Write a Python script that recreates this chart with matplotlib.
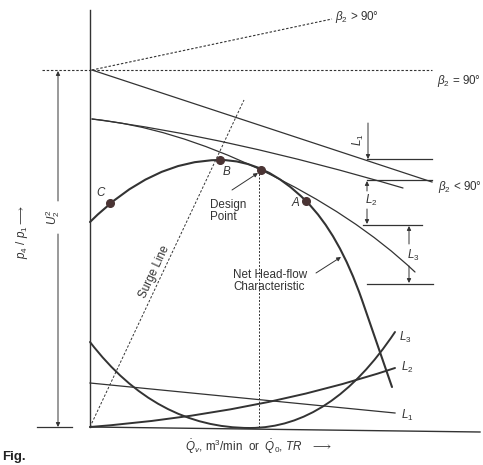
import matplotlib
matplotlib.use("Agg")
import matplotlib.pyplot as plt
from matplotlib.path import Path
from matplotlib.patches import PathPatch

plt.rcParams['font.family'] = ['Liberation Sans', 'DejaVu Sans']
plt.rcParams['mathtext.fontset'] = 'custom'
plt.rcParams['mathtext.rm'] = 'Liberation Sans'
plt.rcParams['mathtext.it'] = 'Liberation Sans:italic'

# ---- schematic data (flow units, pressure-ratio units) ----
# Net head-flow characteristic (quadratic Bezier nodes/controls)
head_flow = [0, 62, 130, 175, 216, 249, 272, 302]
head_ratio = [205, 267, 267, 267, 226, 193, 127, 40]
# Euler lines
euler_lt90_flow = [2, 342]
euler_lt90_ratio = [357, 245]
euler_gt90_flow = [2, 242]
euler_gt90_ratio = [357, 408]
euler_eq90_flow = [-48, 342]
euler_eq90_ratio = [357, 357]
# after slip (L1) and after L2 losses
slip_flow = [2, 140, 313]
slip_ratio = [308, 290, 239]
loss2_flow = [2, 81, 171, 265, 325]
loss2_ratio = [308, 300, 257, 212, 155]
# loss curves near the base
L1_flow = [0, 305]
L1_ratio = [44, 14]
L2_flow = [0, 167, 305]
L2_ratio = [0, 13, 59]
L3_flow = [0, 66, 160, 241, 305]
L3_ratio = [85, -1, -1, -1, 95]
# surge line and design-point drop line
surge_flow = [0, 154]
surge_ratio = [0, 327]
design_drop_flow = [169, 169]
design_drop_ratio = [257, 0]
# named points
point_names = ['C', 'B', '', 'A']
point_flow = [20, 130, 171, 216]
point_ratio = [224, 267, 257, 226]

ink = '#333333'
fig = plt.figure(figsize=(4.83, 4.65), dpi=100)
ax = fig.add_axes([0, 0, 1, 1])
ax.set_xlim(-90, 393)
ax.set_ylim(-38, 427)
ax.axis('off')

M, C3, LT = Path.MOVETO, Path.CURVE3, Path.LINETO

def bezier(xs, ys, codes, lw):
    p = Path(list(zip(xs, ys)), codes)
    ax.add_patch(PathPatch(p, fill=False, ec=ink, lw=lw, capstyle='round'))

# axes lines
ax.plot([0, 0], [0, 417], color=ink, lw=1.0)
ax.plot([0, 390], [0, -5], color=ink, lw=1.0)
ax.plot([-53, -18], [0, 0], color=ink, lw=0.9)

# Euler lines
ax.plot(euler_lt90_flow, euler_lt90_ratio, color=ink, lw=0.9)
ax.plot(euler_gt90_flow, euler_gt90_ratio, color=ink, lw=0.8, ls=(0, (2.2, 1.6)))
ax.plot(euler_eq90_flow, euler_eq90_ratio, color=ink, lw=0.8, ls=(0, (2.2, 1.6)))

# slip and loss lines
bezier(slip_flow, slip_ratio, [M, C3, C3], 0.9)
bezier(loss2_flow, loss2_ratio, [M, C3, C3, C3, C3], 0.9)

# net head-flow characteristic
bezier(head_flow, head_ratio, [M, C3, C3, C3, C3, C3, C3, LT], 1.5)

# bottom loss curves
ax.plot(L1_flow, L1_ratio, color=ink, lw=0.9)
bezier(L2_flow, L2_ratio, [M, C3, C3], 1.4)
bezier(L3_flow, L3_ratio, [M, C3, C3, C3, C3], 1.4)

# surge and design lines
ax.plot(surge_flow, surge_ratio, color=ink, lw=0.7, ls=(0, (2.5, 1.8)))
ax.plot(design_drop_flow, design_drop_ratio, color=ink, lw=0.7, ls=(0, (2.0, 1.6)))

# points
ax.plot(point_flow, point_ratio, 'o', color='#4a3434', ms=5.5, zorder=5)
fs = 8.4
ax.text(11, 234, 'C', fontsize=fs, style='italic', ha='center', va='center', color=ink)
ax.text(137, 255, 'B', fontsize=fs, style='italic', ha='center', va='center', color=ink)
ax.text(205, 224, 'A', fontsize=fs, style='italic', ha='center', va='center', color=ink)

# dimension markers on the right
hl = dict(color=ink, lw=0.9)
ax.plot([277, 342], [268, 268], **hl)
ax.plot([277, 342], [247, 247], **hl)
ax.plot([273, 332], [202, 202], **hl)
ax.plot([277, 343], [143, 143], **hl)

arw = dict(arrowstyle='-|>', color=ink, lw=0.7, mutation_scale=6, shrinkA=0, shrinkB=0)
ax.annotate('', xy=(278, 268), xytext=(278, 304), arrowprops=arw)
ax.annotate('', xy=(277, 246), xytext=(277, 236), arrowprops=arw)
ax.annotate('', xy=(277, 203), xytext=(277, 218), arrowprops=arw)
ax.annotate('', xy=(319, 201), xytext=(319, 183), arrowprops=arw)
ax.annotate('', xy=(319, 144), xytext=(319, 161), arrowprops=arw)
ax.text(268, 287, r'$L_1$', fontsize=fs, rotation=90, ha='center', va='center', color=ink)
ax.text(281, 227, r'$L_2$', fontsize=fs, ha='center', va='center', color=ink)
ax.text(323, 172, r'$L_3$', fontsize=fs, ha='center', va='center', color=ink)

ax.text(309, 90, r'$L_3$', fontsize=fs, ha='left', va='center', color=ink)
ax.text(311, 60, r'$L_2$', fontsize=fs, ha='left', va='center', color=ink)
ax.text(311, 12, r'$L_1$', fontsize=fs, ha='left', va='center', color=ink)

# U2^2 dimension
ax.annotate('', xy=(-32, 356), xytext=(-32, 226), arrowprops=arw)
ax.annotate('', xy=(-32, 0), xytext=(-32, 193), arrowprops=arw)
ax.text(-37, 210, r'$U_2^2$', fontsize=fs, rotation=90, ha='center', va='center', color=ink)
ax.text(-68, 195, r'$p_4\ /\ p_1 \longrightarrow$', fontsize=fs, rotation=90,
        ha='center', va='center', color=ink)

# beta labels
ax.text(245, 410, r'$\beta_2$ > 90°', fontsize=fs, ha='left', va='center', color=ink)
ax.text(347, 346, r'$\beta_2$ = 90°', fontsize=fs, ha='left', va='center', color=ink)
ax.text(348, 240, r'$\beta_2$ < 90°', fontsize=fs, ha='left', va='center', color=ink)

# annotations
ax.text(120, 216, 'Design\nPoint', fontsize=fs, ha='left', va='center', color=ink, linespacing=1.0)
ax.annotate('', xy=(168, 254), xytext=(142, 237), arrowprops=arw)
ax.text(143, 146, 'Net Head-flow\nCharacteristic', fontsize=fs, ha='left', va='center',
        color=ink, linespacing=1.0)
ax.annotate('', xy=(251, 170), xytext=(226, 154), arrowprops=arw)
ax.text(65, 155, 'Surge Line', fontsize=fs, rotation=65, ha='center', va='center', color=ink)

ax.text(169, -20, r'$\dot{Q}_v$, m$^3$/min  or  $\dot{Q}_0$, $TR$   $\longrightarrow$',
        fontsize=fs, ha='center', va='center', color=ink)
ax.text(-88, -36, 'Fig.', fontsize=9.5, fontweight='bold', ha='left', va='bottom', color='#222222')

fig.savefig('out.png', dpi=100, facecolor='white')
